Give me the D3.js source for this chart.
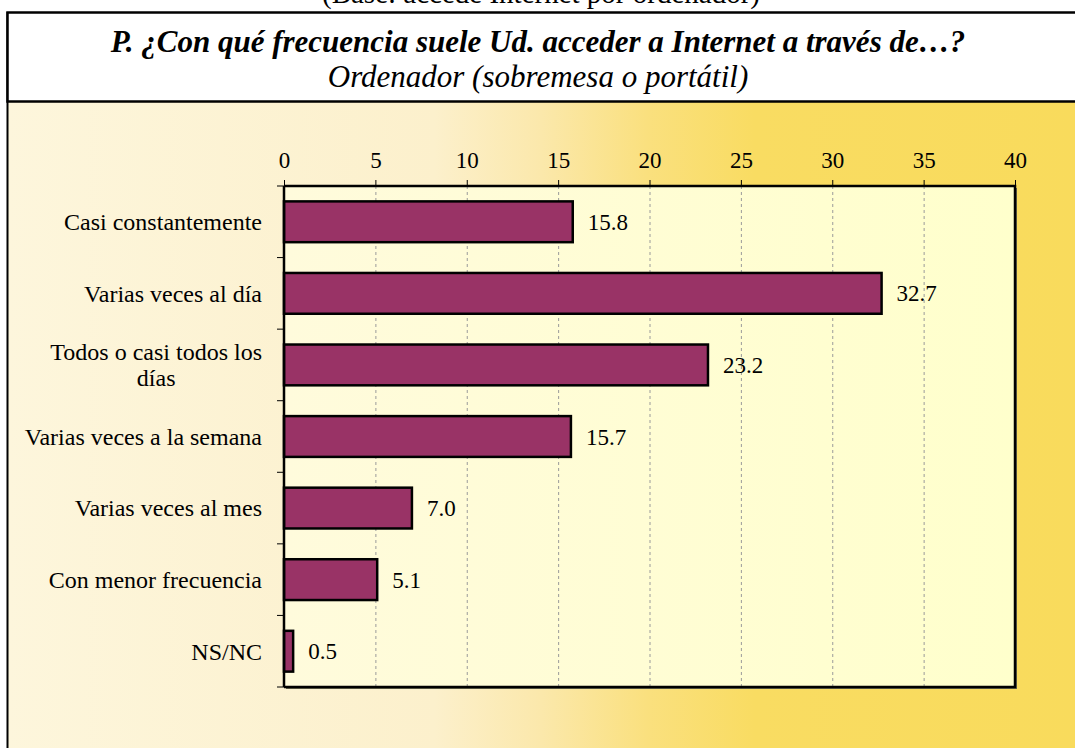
<!DOCTYPE html>
<html>
<head>
<meta charset="utf-8">
<script src="https://cdn.jsdelivr.net/npm/d3@7/dist/d3.min.js"></script>
<style>
  body { margin: 0; background: #fff; }
  svg { display: block; font-family: "Liberation Serif", "Times New Roman", serif; }
</style>
</head>
<body>
<script>
// chart data
const categories = [
  'Casi constantemente',
  'Varias veces al día',
  'Todos o casi todos los|días',
  'Varias veces a la semana',
  'Varias veces al mes',
  'Con menor frecuencia',
  'NS/NC'
];
const values = [15.8, 32.7, 23.2, 15.7, 7.0, 5.1, 0.5];
const xTicks = [0, 5, 10, 15, 20, 25, 30, 35, 40];
const baseText = '(Base: accede Internet por ordenador)';
const titleText = 'P. ¿Con qué frecuencia suele Ud. acceder a Internet a través de…?';
const subtitleText = 'Ordenador (sobremesa o portátil)';

const W = 1075, H = 748;
const plot = { left: 284, top: 186, right: 1015, bottom: 687 };

const svg = d3.select('body').append('svg')
  .attr('width', W)
  .attr('height', H);

const defs = svg.append('defs');
const bg = defs.append('linearGradient').attr('id', 'bg').attr('x1', 0).attr('x2', 1).attr('y1', 0).attr('y2', 0);
[[0, '#fdf6dc'], [0.4, '#fcf0cc'], [0.5, '#fbe8ab'], [0.6, '#fae07e'], [0.7, '#f9dc62'], [1, '#f9db5c']]
  .forEach(([o, c]) => bg.append('stop').attr('offset', o).attr('stop-color', c));
const pf = defs.append('linearGradient').attr('id', 'pf').attr('x1', 0).attr('x2', 1).attr('y1', 0).attr('y2', 0);
[[0, '#fffbdc'], [1, '#ffffcc']]
  .forEach(([o, c]) => pf.append('stop').attr('offset', o).attr('stop-color', c));

// background panel
svg.append('rect')
  .attr('x', 7).attr('y', 102).attr('width', W - 7).attr('height', H - 102)
  .attr('fill', 'url(#bg)');
svg.append('line')
  .attr('x1', 7.5).attr('x2', 7.5).attr('y1', 12).attr('y2', H)
  .attr('stroke', '#000').attr('stroke-width', 2);

// header text above (cut off like the source)
svg.append('text')
  .attr('x', 541).attr('y', 3)
  .attr('text-anchor', 'middle')
  .attr('font-size', 29)
  .text(baseText);

// title box
svg.append('rect')
  .attr('x', 7.5).attr('y', 12.5).attr('width', W + 10).attr('height', 89)
  .attr('fill', '#fff').attr('stroke', '#000').attr('stroke-width', 2.5);
svg.append('text')
  .attr('x', 538).attr('y', 52)
  .attr('text-anchor', 'middle')
  .attr('font-size', 31).attr('font-weight', 'bold').attr('font-style', 'italic')
  .text(titleText);
svg.append('text')
  .attr('x', 538).attr('y', 87)
  .attr('text-anchor', 'middle')
  .attr('font-size', 31).attr('font-style', 'italic')
  .text(subtitleText);

// scales
const x = d3.scaleLinear().domain([0, 40]).range([plot.left, plot.right]);
const y = d3.scaleBand().domain(categories).range([plot.top, plot.bottom])
  .paddingInner(0.43).paddingOuter(0.215);

// plot area with shadow
svg.append('rect')
  .attr('x', plot.left + 2).attr('y', plot.top + 2)
  .attr('width', plot.right - plot.left).attr('height', plot.bottom - plot.top)
  .attr('fill', '#6b6b52');
svg.append('rect')
  .attr('x', plot.left).attr('y', plot.top)
  .attr('width', plot.right - plot.left).attr('height', plot.bottom - plot.top)
  .attr('fill', 'url(#pf)');

// gridlines
svg.append('g').selectAll('line')
  .data(xTicks.filter(d => d > 0 && d < 40))
  .join('line')
  .attr('x1', d => x(d) + 0.5).attr('x2', d => x(d) + 0.5)
  .attr('y1', plot.top).attr('y2', plot.bottom)
  .attr('stroke', '#9a9a9a').attr('stroke-width', 1).attr('stroke-dasharray', '3,3');

// top axis
const xAxis = svg.append('g')
  .attr('transform', `translate(0,${plot.top})`)
  .call(d3.axisTop(x).tickValues(xTicks).tickSize(6).tickPadding(12).tickFormat(d3.format('d')));
xAxis.select('.domain').remove();
xAxis.selectAll('.tick line').attr('stroke', '#000').attr('stroke-width', 1);
xAxis.selectAll('.tick text')
  .attr('font-family', '"Liberation Serif", serif')
  .attr('font-size', 23).attr('fill', '#000');

// bars
svg.append('g').selectAll('rect')
  .data(values)
  .join('rect')
  .attr('x', x(0))
  .attr('y', (d, i) => y(categories[i]))
  .attr('width', d => x(d) - x(0))
  .attr('height', y.bandwidth())
  .attr('fill', '#993366')
  .attr('stroke', '#000').attr('stroke-width', 2.5);

// value labels
svg.append('g').selectAll('text')
  .data(values)
  .join('text')
  .attr('x', d => x(d) + 15)
  .attr('y', (d, i) => y(categories[i]) + y.bandwidth() / 2)
  .attr('dy', '0.35em')
  .attr('font-size', 23)
  .text(d => d.toFixed(1));

// plot border (top, right, bottom)
svg.append('path')
  .attr('d', `M${plot.left},${plot.top}H${plot.right}V${plot.bottom}H${plot.left}`)
  .attr('fill', 'none').attr('stroke', '#000').attr('stroke-width', 2.5);

// left axis with ticks at band boundaries
const step = y.step();
const bounds = d3.range(categories.length + 1).map(i => plot.top + i * step);
svg.append('g').selectAll('line')
  .data(bounds)
  .join('line')
  .attr('x1', plot.left - 7).attr('x2', plot.left)
  .attr('y1', d => d).attr('y2', d => d)
  .attr('stroke', '#000').attr('stroke-width', 1);
svg.append('line')
  .attr('x1', plot.left).attr('x2', plot.left)
  .attr('y1', plot.top).attr('y2', plot.bottom)
  .attr('stroke', '#000').attr('stroke-width', 2.5);

// category labels, right aligned; wrapped lines centered within their block
const labelRight = 262;
const catG = svg.append('g');
categories.forEach(c => {
  const lines = c.split('|');
  const cy = y(c) + y.bandwidth() / 2;
  const g = catG.append('g');
  const texts = lines.map((l, j) => g.append('text')
    .attr('font-size', 24)
    .attr('y', cy + (j - (lines.length - 1) / 2) * 26)
    .attr('dy', '0.35em')
    .text(l));
  const maxW = d3.max(texts, t => t.node().getComputedTextLength());
  texts.forEach(t => t.attr('x', labelRight - maxW / 2).attr('text-anchor', 'middle'));
});
</script>
</body>
</html>
